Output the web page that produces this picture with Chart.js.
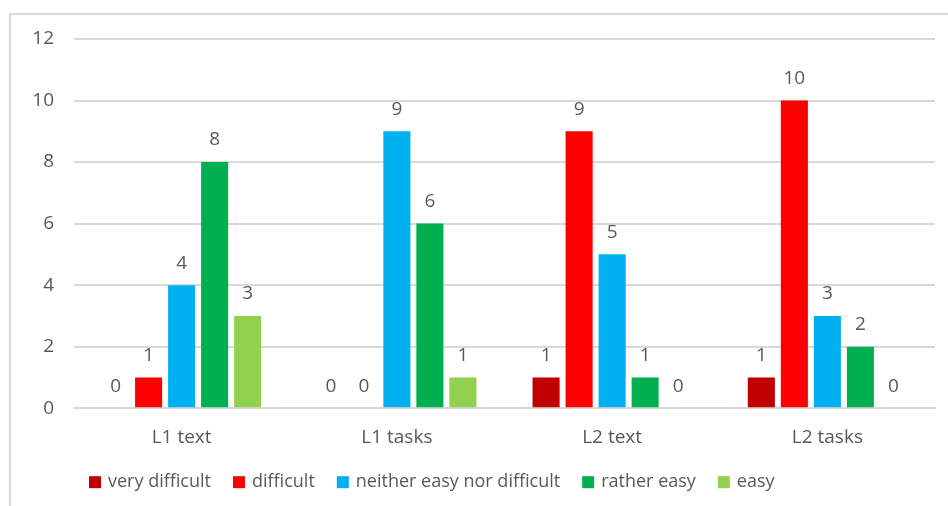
<!DOCTYPE html>
<html>
<head>
<meta charset="utf-8">
<script src="https://cdn.jsdelivr.net/npm/chart.js@4/dist/chart.umd.min.js"></script>
<style>
  html, body { margin: 0; padding: 0; background: #fff; overflow: hidden; }
  #wrap { position: relative; width: 948px; height: 506px; }
  #frame { position: absolute; left: 9px; top: 13px; width: 1000px; height: 600px;
           border: 2px solid #D9D9D9; pointer-events: none; }
  canvas { position: absolute; left: 0; top: 0; }
</style>
</head>
<body>
<div id="wrap">
  <canvas id="chart" width="948" height="506"></canvas>
  <div id="frame"></div>
</div>
<script>
// Survey: perceived difficulty of reading texts and tasks in L1 and L2
const categories = ['L1 text', 'L1 tasks', 'L2 text', 'L2 tasks'];
const seriesNames = ['very difficult', 'difficult', 'neither easy nor difficult', 'rather easy', 'easy'];
const veryDifficult = [0, 0, 1, 1];
const difficult = [1, 0, 9, 10];
const neither = [4, 9, 5, 3];
const ratherEasy = [8, 6, 1, 2];
const easy = [3, 1, 0, 0];
const yTicks = [0, 2, 4, 6, 8, 10, 12];

const colors = ['#C00000', '#FF0000', '#00B0F0', '#00B050', '#92D050'];
const values = [veryDifficult, difficult, neither, ratherEasy, easy];
const textColor = '#595959';
const fontFamily = '"Open Sans", sans-serif';
const fontSize = 19;

// Value labels drawn above each bar
const valueLabels = {
  id: 'valueLabels',
  afterDatasetsDraw(chart) {
    const ctx = chart.ctx;
    ctx.save();
    ctx.font = fontSize + 'px ' + fontFamily;
    ctx.fillStyle = textColor;
    ctx.textAlign = 'center';
    ctx.textBaseline = 'middle';
    chart.data.datasets.forEach((ds, i) => {
      const meta = chart.getDatasetMeta(i);
      meta.data.forEach((bar, j) => {
        ctx.fillText(String(ds.data[j]), bar.x, bar.y - 22);
      });
    });
    ctx.restore();
  }
};

// Single-row legend under the axis, with wider spacing between entries
const rowLegend = {
  id: 'rowLegend',
  afterDraw(chart, args, opts) {
    const ctx = chart.ctx;
    ctx.save();
    ctx.font = opts.fontSize + 'px ' + fontFamily;
    ctx.textBaseline = 'middle';
    ctx.textAlign = 'left';
    const y = chart.chartArea.bottom + opts.offset;
    let x = opts.startX;
    chart.data.datasets.forEach(ds => {
      ctx.fillStyle = ds.backgroundColor;
      ctx.fillRect(x, y - opts.box / 2, opts.box, opts.box);
      x += opts.box + opts.textGap;
      ctx.fillStyle = textColor;
      ctx.fillText(ds.label, x, y);
      x += ctx.measureText(ds.label).width + opts.itemGap;
    });
    ctx.restore();
  }
};

new Chart(document.getElementById('chart'), {
  type: 'bar',
  data: {
    labels: categories,
    datasets: seriesNames.map((name, i) => ({
      label: name,
      data: values[i],
      backgroundColor: colors[i],
      borderWidth: 0,
      categoryPercentage: 0.767,
      barPercentage: 0.82
    }))
  },
  options: {
    responsive: false,
    animation: false,
    layout: { padding: { left: 0, right: 13, top: 39, bottom: 39 } },
    font: { family: fontFamily },
    plugins: {
      legend: { display: false },
      tooltip: { enabled: false },
      rowLegend: { startX: 89, offset: 74, box: 12, textGap: 7, itemGap: 22, fontSize: 18 }
    },
    scales: {
      x: {
        grid: { display: false, drawTicks: false },
        border: { color: '#D9D9D9', width: 2 },
        ticks: { color: textColor, padding: 18, font: { family: fontFamily, size: fontSize } }
      },
      y: {
        min: 0,
        max: 12,
        afterBuildTicks(scale) { scale.ticks = yTicks.map(v => ({ value: v })); },
        afterFit(scale) { scale.width = 74; },
        grid: { color: '#D9D9D9', lineWidth: 2, drawTicks: false },
        border: { display: false },
        ticks: { color: textColor, padding: 20, font: { family: fontFamily, size: fontSize } }
      }
    }
  },
  plugins: [valueLabels, rowLegend]
});
</script>
</body>
</html>
